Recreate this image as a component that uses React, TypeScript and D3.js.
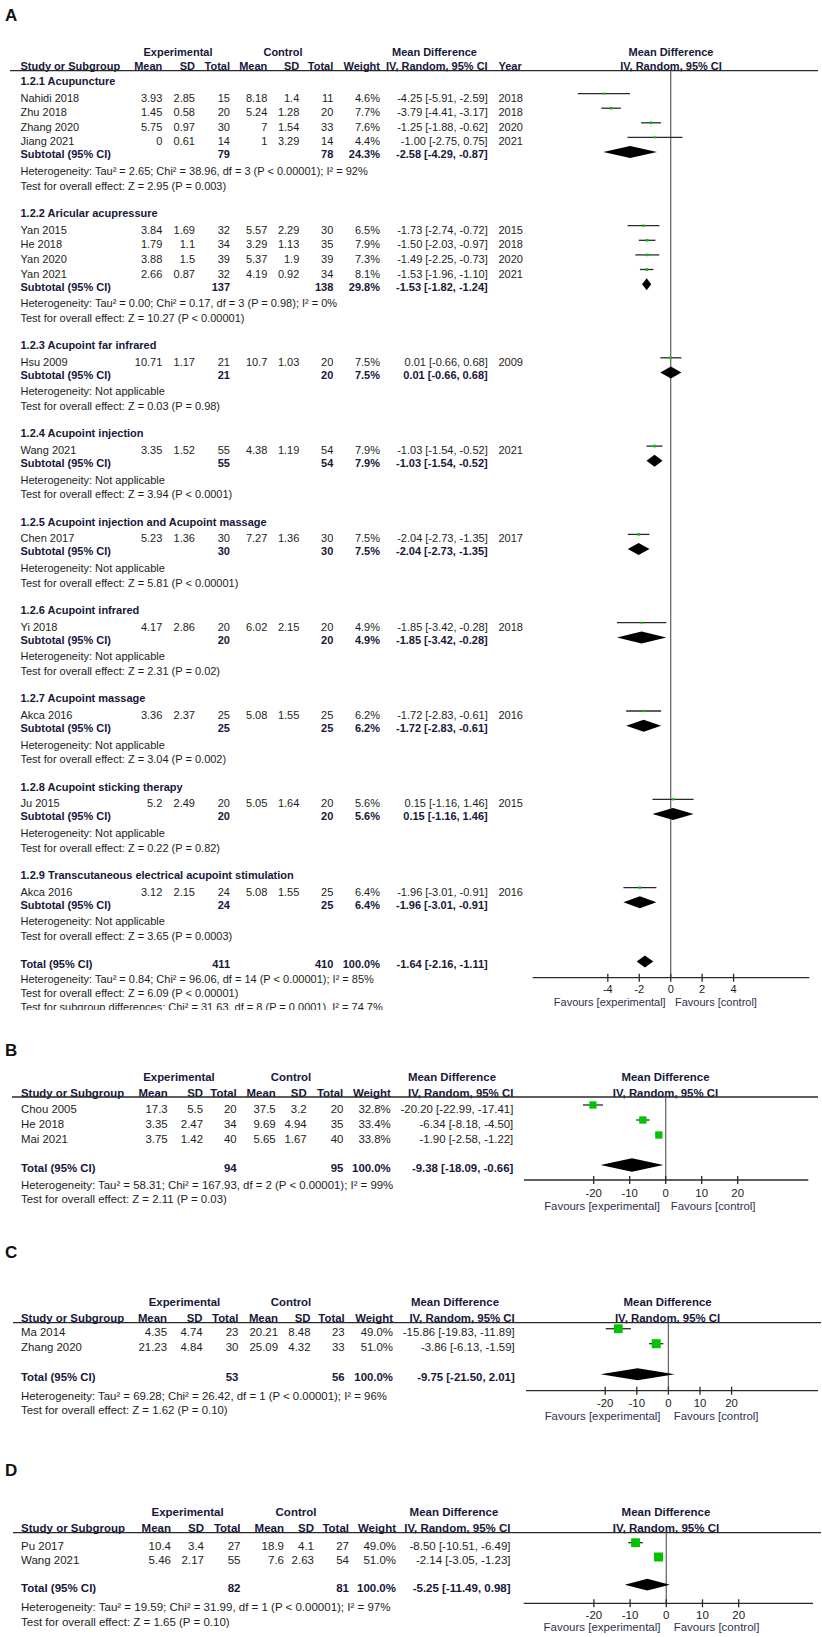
import React from "react";
import * as d3 from "d3";

// ================= Panel A data =================
const A_GROUPS = [
  "1.2.1 Acupuncture",
  "1.2.2 Aricular acupressure",
  "1.2.3 Acupoint far infrared",
  "1.2.4 Acupoint injection",
  "1.2.5 Acupoint injection and Acupoint massage",
  "1.2.6 Acupoint infrared",
  "1.2.7 Acupoint massage",
  "1.2.8 Acupoint sticking therapy",
  "1.2.9 Transcutaneous electrical acupoint stimulation",
];
const A_GROUP_OF = [0, 0, 0, 0, 1, 1, 1, 1, 2, 3, 4, 5, 6, 7, 8];
const A_STUDIES = [
  "Nahidi 2018", "Zhu 2018", "Zhang 2020", "Jiang 2021",
  "Yan 2015", "He 2018", "Yan 2020", "Yan 2021",
  "Hsu 2009", "Wang 2021", "Chen 2017", "Yi 2018", "Akca 2016", "Ju 2015", "Akca 2016",
];
const A_EXP_MEAN = [3.93, 1.45, 5.75, 0, 3.84, 1.79, 3.88, 2.66, 10.71, 3.35, 5.23, 4.17, 3.36, 5.2, 3.12];
const A_EXP_SD = [2.85, 0.58, 0.97, 0.61, 1.69, 1.1, 1.5, 0.87, 1.17, 1.52, 1.36, 2.86, 2.37, 2.49, 2.15];
const A_EXP_N = [15, 20, 30, 14, 32, 34, 39, 32, 21, 55, 30, 20, 25, 20, 24];
const A_CTL_MEAN = [8.18, 5.24, 7, 1, 5.57, 3.29, 5.37, 4.19, 10.7, 4.38, 7.27, 6.02, 5.08, 5.05, 5.08];
const A_CTL_SD = [1.4, 1.28, 1.54, 3.29, 2.29, 1.13, 1.9, 0.92, 1.03, 1.19, 1.36, 2.15, 1.55, 1.64, 1.55];
const A_CTL_N = [11, 20, 33, 14, 30, 35, 39, 34, 20, 54, 30, 20, 25, 20, 25];
const A_WEIGHT = [4.6, 7.7, 7.6, 4.4, 6.5, 7.9, 7.3, 8.1, 7.5, 7.9, 7.5, 4.9, 6.2, 5.6, 6.4];
const A_MD = [-4.25, -3.79, -1.25, -1.0, -1.73, -1.5, -1.49, -1.53, 0.01, -1.03, -2.04, -1.85, -1.72, 0.15, -1.96];
const A_LO = [-5.91, -4.41, -1.88, -2.75, -2.74, -2.03, -2.25, -1.96, -0.66, -1.54, -2.73, -3.42, -2.83, -1.16, -3.01];
const A_HI = [-2.59, -3.17, -0.62, 0.75, -0.72, -0.97, -0.73, -1.1, 0.68, -0.52, -1.35, -0.28, -0.61, 1.46, -0.91];
const A_YEAR = [2018, 2018, 2020, 2021, 2015, 2018, 2020, 2021, 2009, 2021, 2017, 2018, 2016, 2015, 2016];

const A_SUB_EXP_N = [79, 137, 21, 55, 30, 20, 25, 20, 24];
const A_SUB_CTL_N = [78, 138, 20, 54, 30, 20, 25, 20, 25];
const A_SUB_W = [24.3, 29.8, 7.5, 7.9, 7.5, 4.9, 6.2, 5.6, 6.4];
const A_SUB_MD = [-2.58, -1.53, 0.01, -1.03, -2.04, -1.85, -1.72, 0.15, -1.96];
const A_SUB_LO = [-4.29, -1.82, -0.66, -1.54, -2.73, -3.42, -2.83, -1.16, -3.01];
const A_SUB_HI = [-0.87, -1.24, 0.68, -0.52, -1.35, -0.28, -0.61, 1.46, -0.91];
const A_SUB_HET = [
  "Heterogeneity: Tau² = 2.65; Chi² = 38.96, df = 3 (P < 0.00001); I² = 92%",
  "Heterogeneity: Tau² = 0.00; Chi² = 0.17, df = 3 (P = 0.98); I² = 0%",
  "Heterogeneity: Not applicable",
  "Heterogeneity: Not applicable",
  "Heterogeneity: Not applicable",
  "Heterogeneity: Not applicable",
  "Heterogeneity: Not applicable",
  "Heterogeneity: Not applicable",
  "Heterogeneity: Not applicable",
];
const A_SUB_TEST = [
  "Test for overall effect: Z = 2.95 (P = 0.003)",
  "Test for overall effect: Z = 10.27 (P < 0.00001)",
  "Test for overall effect: Z = 0.03 (P = 0.98)",
  "Test for overall effect: Z = 3.94 (P < 0.0001)",
  "Test for overall effect: Z = 5.81 (P < 0.00001)",
  "Test for overall effect: Z = 2.31 (P = 0.02)",
  "Test for overall effect: Z = 3.04 (P = 0.002)",
  "Test for overall effect: Z = 0.22 (P = 0.82)",
  "Test for overall effect: Z = 3.65 (P = 0.0003)",
];
const A_TOTAL = { en: 411, cn: 410, w: 100.0, md: -1.64, lo: -2.16, hi: -1.11 };
const A_TOTAL_NOTES = [
  "Heterogeneity: Tau² = 0.84; Chi² = 96.06, df = 14 (P < 0.00001); I² = 85%",
  "Test for overall effect: Z = 6.09 (P < 0.00001)",
  "Test for subgroup differences: Chi² = 31.63, df = 8 (P = 0.0001), I² = 74.7%",
];
const A_TICKS = [-4, -2, 0, 2, 4];

// ================= Panel B data =================
const B_STUDIES = ["Chou 2005", "He 2018", "Mai 2021"];
const B_EXP_MEAN = [17.3, 3.35, 3.75];
const B_EXP_SD = [5.5, 2.47, 1.42];
const B_EXP_N = [20, 34, 40];
const B_CTL_MEAN = [37.5, 9.69, 5.65];
const B_CTL_SD = [3.2, 4.94, 1.67];
const B_CTL_N = [20, 35, 40];
const B_WEIGHT = [32.8, 33.4, 33.8];
const B_MD = [-20.2, -6.34, -1.9];
const B_LO = [-22.99, -8.18, -2.58];
const B_HI = [-17.41, -4.5, -1.22];
const B_TOTAL = { en: 94, cn: 95, w: 100.0, md: -9.38, lo: -18.09, hi: -0.66 };
const B_NOTES = [
  "Heterogeneity: Tau² = 58.31; Chi² = 167.93, df = 2 (P < 0.00001); I² = 99%",
  "Test for overall effect: Z = 2.11 (P = 0.03)",
];
const BCD_TICKS = [-20, -10, 0, 10, 20];

// ================= Panel C data =================
const C_STUDIES = ["Ma 2014", "Zhang 2020"];
const C_EXP_MEAN = [4.35, 21.23];
const C_EXP_SD = [4.74, 4.84];
const C_EXP_N = [23, 30];
const C_CTL_MEAN = [20.21, 25.09];
const C_CTL_SD = [8.48, 4.32];
const C_CTL_N = [23, 33];
const C_WEIGHT = [49.0, 51.0];
const C_MD = [-15.86, -3.86];
const C_LO = [-19.83, -6.13];
const C_HI = [-11.89, -1.59];
const C_TOTAL = { en: 53, cn: 56, w: 100.0, md: -9.75, lo: -21.5, hi: 2.01 };
const C_NOTES = [
  "Heterogeneity: Tau² = 69.28; Chi² = 26.42, df = 1 (P < 0.00001); I² = 96%",
  "Test for overall effect: Z = 1.62 (P = 0.10)",
];

// ================= Panel D data =================
const D_STUDIES = ["Pu 2017", "Wang 2021"];
const D_EXP_MEAN = [10.4, 5.46];
const D_EXP_SD = [3.4, 2.17];
const D_EXP_N = [27, 55];
const D_CTL_MEAN = [18.9, 7.6];
const D_CTL_SD = [4.1, 2.63];
const D_CTL_N = [27, 54];
const D_WEIGHT = [49.0, 51.0];
const D_MD = [-8.5, -2.14];
const D_LO = [-10.51, -3.05];
const D_HI = [-6.49, -1.23];
const D_TOTAL = { en: 82, cn: 81, w: 100.0, md: -5.25, lo: -11.49, hi: 0.98 };
const D_NOTES = [
  "Heterogeneity: Tau² = 19.59; Chi² = 31.99, df = 1 (P < 0.00001); I² = 97%",
  "Test for overall effect: Z = 1.65 (P = 0.10)",
];

// ================= styling =================
const FONT = "'Liberation Sans', Arial, Helvetica, sans-serif";
const INK = "#1c1c1c";
const BOLD_INK = "#17173a";
const FAV_INK = "#303050";
const GREEN = "#00c400";
const LINE = "#2a2a2a";
const ZERO = "#6a6a6a";

const ci = (m: number, l: number, h: number) => `${m.toFixed(2)} [${l.toFixed(2)}, ${h.toFixed(2)}]`;

type Study = {
  name: string; em: number; esd: number; en: number; cm: number; csd: number; cn: number;
  w: number; md: number; lo: number; hi: number; year?: number;
};
type Row =
  | { kind: "group"; y: number; text: string }
  | { kind: "study"; y: number; s: Study }
  | { kind: "sum"; y: number; label: string; en: number; cn: number; w: number; md: number; lo: number; hi: number }
  | { kind: "note"; y: number; text: string; clipBottom?: number };

function makeStudies(names: string[], em: number[], esd: number[], en: number[], cm: number[], csd: number[], cn: number[], w: number[], md: number[], lo: number[], hi: number[], year?: number[]): Study[] {
  return names.map((name, i) => ({
    name, em: em[i], esd: esd[i], en: en[i], cm: cm[i], csd: csd[i], cn: cn[i], w: w[i], md: md[i], lo: lo[i], hi: hi[i],
    year: year ? year[i] : undefined,
  }));
}

type Spec = {
  id: string; label: string; labelY: number; fs: number;
  cols: { study: number; em: number; esd: number; en: number; cm: number; csd: number; cn: number; w: number; ci: number; year?: number };
  head1: number; head2: number; lineY: number; lineX: [number, number];
  expC: number; ctlC: number; mdLC: number; mdRC: number; ivLR: number;
  zeroX: number; unitPx: number; axisY: number; axisX: [number, number]; ticks: number[];
  tickY: number; favY: number; favExpR: number; favCtlL: number;
  sqK: number; diaH: number; studyOff: number; diaOff: number;
  rows: Row[];
};

function Txt(p: { x: number; y: number; fs: number; anchor?: string; bold?: boolean; fill?: string; children: React.ReactNode; clip?: string }) {
  return (
    <text
      x={p.x}
      y={p.y}
      dy="0.35em"
      fontSize={p.fs}
      fontFamily={FONT}
      fontWeight={p.bold ? "bold" : "normal"}
      textAnchor={p.anchor || "start"}
      fill={p.fill || (p.bold ? BOLD_INK : INK)}
      clipPath={p.clip}
    >
      {p.children}
    </text>
  );
}

function Panel({ spec }: { spec: Spec }) {
  const x = d3.scaleLinear().domain([0, 1]).range([spec.zeroX, spec.zeroX + spec.unitPx]);
  const c = spec.cols;
  const fs = spec.fs;
  const rows = spec.rows;
  const diamond = (md: number, lo: number, hi: number, y: number) => {
    const h = spec.diaH / 2;
    const pts: [number, number][] = [[x(lo), y], [x(md), y - h], [x(hi), y], [x(md), y + h]];
    return d3.line()(pts) + "Z";
  };
  return (
    <g>
      <text x={5} y={spec.labelY} dy="0.36em" fontSize={17} fontWeight="bold" fontFamily={FONT} fill="#111">
        {spec.label}
      </text>
      <Txt x={spec.expC} y={spec.head1} fs={fs} bold anchor="middle">Experimental</Txt>
      <Txt x={spec.ctlC} y={spec.head1} fs={fs} bold anchor="middle">Control</Txt>
      <Txt x={spec.mdLC} y={spec.head1} fs={fs} bold anchor="middle">Mean Difference</Txt>
      <Txt x={spec.mdRC} y={spec.head1} fs={fs} bold anchor="middle">Mean Difference</Txt>
      <Txt x={c.study} y={spec.head2} fs={fs} bold>Study or Subgroup</Txt>
      <Txt x={c.em} y={spec.head2} fs={fs} bold anchor="end">Mean</Txt>
      <Txt x={c.esd} y={spec.head2} fs={fs} bold anchor="end">SD</Txt>
      <Txt x={c.en} y={spec.head2} fs={fs} bold anchor="end">Total</Txt>
      <Txt x={c.cm} y={spec.head2} fs={fs} bold anchor="end">Mean</Txt>
      <Txt x={c.csd} y={spec.head2} fs={fs} bold anchor="end">SD</Txt>
      <Txt x={c.cn} y={spec.head2} fs={fs} bold anchor="end">Total</Txt>
      <Txt x={c.w} y={spec.head2} fs={fs} bold anchor="end">Weight</Txt>
      <Txt x={spec.ivLR} y={spec.head2} fs={fs} bold anchor="end">IV, Random, 95% CI</Txt>
      {c.year !== undefined && <Txt x={c.year} y={spec.head2} fs={fs} bold>Year</Txt>}
      <Txt x={spec.mdRC} y={spec.head2} fs={fs} bold anchor="middle">IV, Random, 95% CI</Txt>
      <line x1={spec.lineX[0]} x2={spec.lineX[1]} y1={spec.lineY} y2={spec.lineY} stroke={LINE} strokeWidth={1.3} />
      <line x1={x(0)} x2={x(0)} y1={spec.lineY} y2={spec.axisY} stroke={ZERO} strokeWidth={1.3} />
      {rows.map((r, i) => {
        if (r.kind === "group") return <Txt key={i} x={c.study} y={r.y} fs={fs} bold>{r.text}</Txt>;
        if (r.kind === "note") {
          return (
            <Txt key={i} x={c.study} y={r.y} fs={fs} clip={r.clipBottom !== undefined ? `url(#clip-${spec.id})` : undefined}>
              {r.text}
            </Txt>
          );
        }
        if (r.kind === "study") {
          const s = r.s;
          const side = spec.sqK * Math.sqrt(s.w);
          const my = r.y - spec.studyOff;
          return (
            <g key={i}>
              <Txt x={c.study} y={r.y} fs={fs}>{s.name}</Txt>
              <Txt x={c.em} y={r.y} fs={fs} anchor="end">{String(s.em)}</Txt>
              <Txt x={c.esd} y={r.y} fs={fs} anchor="end">{String(s.esd)}</Txt>
              <Txt x={c.en} y={r.y} fs={fs} anchor="end">{String(s.en)}</Txt>
              <Txt x={c.cm} y={r.y} fs={fs} anchor="end">{String(s.cm)}</Txt>
              <Txt x={c.csd} y={r.y} fs={fs} anchor="end">{String(s.csd)}</Txt>
              <Txt x={c.cn} y={r.y} fs={fs} anchor="end">{String(s.cn)}</Txt>
              <Txt x={c.w} y={r.y} fs={fs} anchor="end">{s.w.toFixed(1) + "%"}</Txt>
              <Txt x={c.ci} y={r.y} fs={fs} anchor="end">{ci(s.md, s.lo, s.hi)}</Txt>
              {s.year !== undefined && c.year !== undefined && <Txt x={c.year} y={r.y} fs={fs}>{String(s.year)}</Txt>}
              <line x1={x(s.lo)} x2={x(s.hi)} y1={my} y2={my} stroke={LINE} strokeWidth={1.3} />
              <rect x={x(s.md) - side / 2} y={my - side / 2} width={side} height={side} fill={GREEN} />
            </g>
          );
        }
        const dy = r.y - spec.diaOff;
        return (
          <g key={i}>
            <Txt x={c.study} y={r.y} fs={fs} bold>{r.label}</Txt>
            <Txt x={c.en} y={r.y} fs={fs} bold anchor="end">{String(r.en)}</Txt>
            <Txt x={c.cn} y={r.y} fs={fs} bold anchor="end">{String(r.cn)}</Txt>
            <Txt x={c.w} y={r.y} fs={fs} bold anchor="end">{r.w.toFixed(1) + "%"}</Txt>
            <Txt x={c.ci} y={r.y} fs={fs} bold anchor="end">{ci(r.md, r.lo, r.hi)}</Txt>
            <path d={diamond(r.md, r.lo, r.hi, dy)} fill="#000" />
          </g>
        );
      })}
      {rows.filter((r) => r.kind === "note" && r.clipBottom !== undefined).map((r, i) => (
        <clipPath key={"cp" + i} id={`clip-${spec.id}`}>
          <rect x={0} y={0} width={822} height={(r as any).clipBottom} />
        </clipPath>
      ))}
      <line x1={spec.axisX[0]} x2={spec.axisX[1]} y1={spec.axisY} y2={spec.axisY} stroke={LINE} strokeWidth={1.3} />
      {spec.ticks.map((t) => (
        <g key={t}>
          <line x1={x(t)} x2={x(t)} y1={spec.axisY - 4} y2={spec.axisY + 4} stroke={LINE} strokeWidth={1.3} />
          <Txt x={x(t)} y={spec.tickY} fs={fs} anchor="middle">{String(t)}</Txt>
        </g>
      ))}
      <Txt x={spec.favExpR} y={spec.favY} fs={fs} anchor="end" fill={FAV_INK}>Favours [experimental]</Txt>
      <Txt x={spec.favCtlL} y={spec.favY} fs={fs} fill={FAV_INK}>Favours [control]</Txt>
    </g>
  );
}

function buildARows(): Row[] {
  const studies = makeStudies(A_STUDIES, A_EXP_MEAN, A_EXP_SD, A_EXP_N, A_CTL_MEAN, A_CTL_SD, A_CTL_N, A_WEIGHT, A_MD, A_LO, A_HI, A_YEAR);
  const rows: Row[] = [];
  let y = 81;
  A_GROUPS.forEach((g, gi) => {
    rows.push({ kind: "group", y, text: g });
    y += 16.8;
    const members = studies.filter((_, i) => A_GROUP_OF[i] === gi);
    members.forEach((s, k) => {
      rows.push({ kind: "study", y, s });
      if (k < members.length - 1) y += 14.6;
    });
    y += 13;
    rows.push({ kind: "sum", y, label: "Subtotal (95% CI)", en: A_SUB_EXP_N[gi], cn: A_SUB_CTL_N[gi], w: A_SUB_W[gi], md: A_SUB_MD[gi], lo: A_SUB_LO[gi], hi: A_SUB_HI[gi] });
    y += 16.5;
    rows.push({ kind: "note", y, text: A_SUB_HET[gi] });
    y += 14.8;
    rows.push({ kind: "note", y, text: A_SUB_TEST[gi] });
    y += 27.2;
  });
  y += 0.8;
  rows.push({ kind: "sum", y, label: "Total (95% CI)", ...A_TOTAL });
  y += 15;
  rows.push({ kind: "note", y, text: A_TOTAL_NOTES[0] });
  y += 14.5;
  rows.push({ kind: "note", y, text: A_TOTAL_NOTES[1] });
  y += 14;
  rows.push({ kind: "note", y, text: A_TOTAL_NOTES[2], clipBottom: y + 2.5 });
  return rows;
}

function buildSimpleRows(studies: Study[], firstY: number, step: number, totalY: number, total: any, notes: string[], noteY: number, noteStep: number): Row[] {
  const rows: Row[] = [];
  studies.forEach((s, i) => rows.push({ kind: "study", y: firstY + i * step, s }));
  rows.push({ kind: "sum", y: totalY, label: "Total (95% CI)", ...total });
  notes.forEach((t, i) => rows.push({ kind: "note", y: noteY + i * noteStep, text: t }));
  return rows;
}

const SPEC_A: Spec = {
  id: "A", label: "A", labelY: 15, fs: 11,
  cols: { study: 20.5, em: 162.3, esd: 195, en: 230, cm: 267.3, csd: 299.3, cn: 333.3, w: 380, ci: 487.7, year: 498.5 },
  head1: 51.7, head2: 66, lineY: 70.7, lineX: [10, 818],
  expC: 178, ctlC: 283, mdLC: 434.5, mdRC: 671, ivLR: 487.7,
  zeroX: 670.7, unitPx: 15.72, axisY: 977.7, axisX: [532.7, 809.3], ticks: A_TICKS,
  tickY: 989, favY: 1001.7, favExpR: 665.7, favCtlL: 675,
  sqK: 0.95, diaH: 12, studyOff: 4.2, diaOff: 2.5,
  rows: buildARows(),
};

const SPEC_B: Spec = {
  id: "B", label: "B", labelY: 1050, fs: 11.4,
  cols: { study: 21, em: 167.7, esd: 203, en: 236.7, cm: 275.7, csd: 306.7, cn: 343.3, w: 390.7, ci: 513.3 },
  head1: 1076.7, head2: 1092.7, lineY: 1097, lineX: [12, 818],
  expC: 179, ctlC: 291, mdLC: 452, mdRC: 665.5, ivLR: 513.3,
  zeroX: 665.7, unitPx: 3.6, axisY: 1180, axisX: [524, 808.3], ticks: BCD_TICKS,
  tickY: 1193.3, favY: 1206, favExpR: 660, favCtlL: 670.7,
  sqK: 1.26, diaH: 13.5, studyOff: 4, diaOff: 3,
  rows: buildSimpleRows(
    makeStudies(B_STUDIES, B_EXP_MEAN, B_EXP_SD, B_EXP_N, B_CTL_MEAN, B_CTL_SD, B_CTL_N, B_WEIGHT, B_MD, B_LO, B_HI),
    1109, 15, 1168, B_TOTAL, B_NOTES, 1185, 14.3
  ),
};

const SPEC_C: Spec = {
  id: "C", label: "C", labelY: 1252, fs: 11.4,
  cols: { study: 21, em: 167, esd: 202.6, en: 238.4, cm: 278, csd: 310.5, cn: 344.7, w: 393, ci: 514.7 },
  head1: 1302, head2: 1317.7, lineY: 1322.7, lineX: [13, 821],
  expC: 184.5, ctlC: 291, mdLC: 455, mdRC: 667.6, ivLR: 514.7,
  zeroX: 668.4, unitPx: 3.16, axisY: 1390.7, axisX: [526, 818], ticks: BCD_TICKS,
  tickY: 1403, favY: 1415.7, favExpR: 660.5, favCtlL: 673.7,
  sqK: 1.26, diaH: 12, studyOff: 3, diaOff: 3,
  rows: buildSimpleRows(
    makeStudies(C_STUDIES, C_EXP_MEAN, C_EXP_SD, C_EXP_N, C_CTL_MEAN, C_CTL_SD, C_CTL_N, C_WEIGHT, C_MD, C_LO, C_HI),
    1331.7, 15, 1377.3, C_TOTAL, C_NOTES, 1396, 14.3
  ),
};

const SPEC_D: Spec = {
  id: "D", label: "D", labelY: 1470, fs: 11.5,
  cols: { study: 21, em: 171, esd: 204, en: 240.5, cm: 284, csd: 314, cn: 349, w: 396, ci: 510.5 },
  head1: 1512, head2: 1528, lineY: 1532.7, lineX: [13, 821],
  expC: 187.6, ctlC: 296, mdLC: 454, mdRC: 666, ivLR: 510.5,
  zeroX: 666.3, unitPx: 3.62, axisY: 1603.3, axisX: [523.7, 813], ticks: BCD_TICKS,
  tickY: 1615, favY: 1626.7, favExpR: 660.5, favCtlL: 673.7,
  sqK: 1.26, diaH: 11.7, studyOff: 3, diaOff: 3,
  rows: buildSimpleRows(
    makeStudies(D_STUDIES, D_EXP_MEAN, D_EXP_SD, D_EXP_N, D_CTL_MEAN, D_CTL_SD, D_CTL_N, D_WEIGHT, D_MD, D_LO, D_HI),
    1545.7, 14.3, 1587.7, D_TOTAL, D_NOTES, 1606.7, 15
  ),
};

export default function App() {
  return (
    <svg
      width={822}
      height={1637}
      viewBox="0 0 822 1637"
      style={{ position: "absolute", left: 0, top: 0, background: "#fff" }}
    >
      <rect width={822} height={1637} fill="#fff" />
      <Panel spec={SPEC_A} />
      <Panel spec={SPEC_B} />
      <Panel spec={SPEC_C} />
      <Panel spec={SPEC_D} />
    </svg>
  );
}
